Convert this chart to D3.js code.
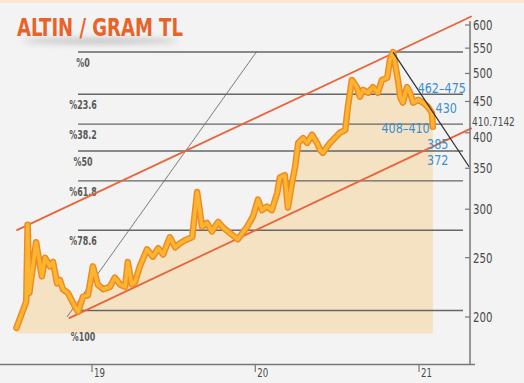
<!DOCTYPE html>
<html><head><meta charset="utf-8">
<script src="https://cdn.jsdelivr.net/npm/d3@7"></script>
<style>
html,body{margin:0;padding:0;background:#f3f3f3;}
svg{display:block;}
</style></head>
<body><svg id="c" width="524" height="383"></svg>
<script>
// ---- data ----
const dates = ["2018-07-16","2018-08-07","2018-08-10","2018-08-14","2018-08-29","2018-09-11","2018-09-18","2018-09-29","2018-10-06","2018-10-15","2018-10-21","2018-10-28","2018-11-08","2018-11-24","2018-12-01","2018-12-12","2018-12-23","2019-01-03","2019-01-14","2019-01-26","2019-02-10","2019-02-21","2019-03-05","2019-03-16","2019-03-22","2019-03-31","2019-04-07","2019-04-18","2019-05-04","2019-05-17","2019-05-29","2019-06-09","2019-06-24","2019-07-06","2019-07-17","2019-07-28","2019-08-13","2019-08-24","2019-09-04","2019-09-15","2019-09-26","2019-10-10","2019-10-21","2019-11-06","2019-11-23","2019-12-14","2019-12-27","2020-01-07","2020-01-16","2020-01-27","2020-02-07","2020-02-19","2020-02-25","2020-03-07","2020-03-14","2020-03-23","2020-03-30","2020-04-06","2020-04-17","2020-04-26","2020-05-07","2020-05-18","2020-05-25","2020-05-31","2020-06-16","2020-07-08","2020-07-20","2020-07-26","2020-08-04","2020-08-15","2020-08-22","2020-08-29","2020-09-09","2020-09-20","2020-10-01","2020-10-10","2020-10-22","2020-10-28","2020-11-04","2020-11-15","2020-11-20","2020-11-26","2020-12-05","2020-12-12","2020-12-19","2020-12-30","2021-01-10","2021-01-21","2021-01-30","2021-02-01"];
const prices = [192,212,283,219,265,233,250,242,246,227,230,222,219,208,204,216,217,242,226,222,224,232,226,224,246,226,228,242,258,251,259,253,270,260,264,267,270,320,281,285,276,286,280,274,268,281,292,311,299,303,299,319,338,341,302,331,352,385,392,385,397,385,375,371,385,400,404,441,488,475,458,470,465,475,465,488,492,526,542,488,458,448,475,465,448,453,448,441,431,409];

const fibLevels = [0, 23.6, 38.2, 50, 61.8, 78.6, 100];
const fibLabels = ["%0","%23.6","%38.2","%50","%61.8","%78.6","%100"];
const fibHigh = 542, fibLow = 205;

const yTicks = [200,250,300,350,400,450,500,550,600];
const extraYLabel = 410.7142;
const xTickDates = ["2019-01-01","2020-01-01","2021-01-01"];
const xTickLabels = ["19","20","21"];

// channel & trend lines as [date, value] endpoints
const channelUpper = [["2018-07-16",277],["2021-04-29",620]];
const channelLower = [["2018-11-10",199],["2021-04-29",407]];
const fanLine = [["2018-11-06",200],["2020-01-05",544]];
const downLine = [["2020-11-04",542],["2021-04-23",352]];

const annotations = ["462–475","430","408–410","385","372"];
const title = "ALTIN / GRAM TL";

// ---- drawing ----
const FONT = "'DejaVu Sans Condensed','Liberation Sans Narrow','DejaVu Sans',sans-serif";
const svg = d3.select("#c");
const P = d3.timeParse("%Y-%m-%d");
const data = dates.map((d,i)=>({date:P(d), v:prices[i]}));

const x = d3.scaleTime().domain([P("2019-01-01"),P("2021-01-01")]).range([92,419]);
const y = d3.scaleLog().domain([200,600]).range([317,25]);

// squeeze text horizontally around its anchor x (condensed look)
function squeeze(sel, f){
  sel.each(function(){
    const ax = +this.getAttribute("x");
    this.setAttribute("transform", `translate(${ax},0) scale(${f},1) translate(${-ax},0)`);
  });
  return sel;
}

svg.append("rect").attr("width",524).attr("height",383).attr("fill","#f3f3f3");
svg.append("rect").attr("width",524).attr("height",3).attr("fill","#fbe6d6");

// title shadow + title
const defs = svg.append("defs");
defs.append("filter").attr("id","blur").attr("x","-20%").attr("y","-200%").attr("width","140%").attr("height","500%")
  .append("feGaussianBlur").attr("stdDeviation",3);
svg.append("ellipse").attr("cx",100).attr("cy",41).attr("rx",78).attr("ry",2.5)
  .attr("fill","#888").attr("opacity",0.55).attr("filter","url(#blur)");
const tt = svg.append("text").attr("x",17).attr("y",36).text(title)
  .attr("font-family",FONT).attr("font-weight","bold").attr("font-size",25)
  .attr("fill","#e8622a");
squeeze(tt, 166/tt.node().getComputedTextLength());

// area
const baseV = 188;
svg.append("path").datum(data)
  .attr("d", d3.area().x(d=>x(d.date)).y0(y(baseV)).y1(d=>y(d.v)))
  .attr("fill","#f4e2c3");

// fib lines
const fibX0 = 78, fibX1 = 463;
fibLevels.forEach((p,i)=>{
  const v = fibHigh - p/100*(fibHigh-fibLow);
  svg.append("line").attr("x1",fibX0).attr("x2",fibX1).attr("y1",y(v)).attr("y2",y(v))
    .attr("stroke","#666").attr("stroke-width",1.4);
  const ty = p===100 ? y(baseV)+8 : y(v)+15;
  squeeze(svg.append("text").attr("x",83).attr("y",ty).attr("text-anchor","middle")
    .text(fibLabels[i]).attr("font-family",FONT).attr("font-size",13)
    .attr("fill","#5a5a5a").attr("font-weight","bold"), 0.68);
});

// channel + trend lines
const seg = (pts,color,w)=>svg.append("line")
  .attr("x1",x(P(pts[0][0]))).attr("y1",y(pts[0][1]))
  .attr("x2",x(P(pts[1][0]))).attr("y2",y(pts[1][1]))
  .attr("stroke",color).attr("stroke-width",w);
seg(fanLine,"#6e6e6e",0.9);
seg(channelUpper,"#e8643a",1.8);
seg(channelLower,"#e8643a",1.8);

// price line
const line = d3.line().x(d=>x(d.date)).y(d=>y(d.v));
svg.append("path").datum(data).attr("d",line).attr("fill","none")
  .attr("stroke","#ef8a22").attr("stroke-width",6.5).attr("stroke-linejoin","round").attr("stroke-linecap","round");
svg.append("path").datum(data).attr("d",line).attr("fill","none")
  .attr("stroke","#fcb531").attr("stroke-width",3.6).attr("stroke-linejoin","round").attr("stroke-linecap","round");

seg(downLine,"#333",1.3);

// y axis
const axX = 470;
svg.append("line").attr("x1",axX).attr("x2",axX).attr("y1",21).attr("y2",365).attr("stroke","#777").attr("stroke-width",1.5);
yTicks.forEach(t=>{
  svg.append("line").attr("x1",axX-5).attr("x2",axX).attr("y1",y(t)).attr("y2",y(t)).attr("stroke","#777").attr("stroke-width",1.2);
  squeeze(svg.append("text").attr("x",axX+3).attr("y",y(t)+(t===400?4:0)).attr("dy","0.36em").text(t)
    .attr("font-family",FONT).attr("font-size",13.5).attr("fill","#4a4a4a"), 0.84);
});
squeeze(svg.append("text").attr("x",axX+2).attr("y",y(extraYLabel)-4).attr("dy","0.36em").text(extraYLabel)
  .attr("font-family",FONT).attr("font-size",12.5).attr("fill","#4a4a4a"), 0.8);

// x axis
svg.append("line").attr("x1",0).attr("x2",475).attr("y1",364.5).attr("y2",364.5).attr("stroke","#777").attr("stroke-width",1.5);
xTickDates.forEach((d,i)=>{
  const xx = x(P(d));
  svg.append("line").attr("x1",xx).attr("x2",xx).attr("y1",365).attr("y2",372).attr("stroke","#777").attr("stroke-width",1.2);
  squeeze(svg.append("text").attr("x",xx+2).attr("y",377).text(xTickLabels[i])
    .attr("font-family",FONT).attr("font-size",12).attr("fill","#4a4a4a"), 0.8);
});

// annotations (blue), positioned relative to scale values
const ann = [
  {t:annotations[0], x:x(P("2020-12-29")), y:y(462)-1, a:"start"},
  {t:annotations[1], x:x(P("2021-02-07")), y:y(430)-1, a:"start"},
  {t:annotations[2], x:x(P("2021-01-25")), y:y(410)+7, a:"end"},
  {t:annotations[3], x:x(P("2021-01-19")), y:y(385)+6, a:"start"},
  {t:annotations[4], x:x(P("2021-01-19")), y:y(372)+13, a:"start"}
];
ann.forEach(a=>{
  squeeze(svg.append("text").attr("x",a.x).attr("y",a.y).attr("text-anchor",a.a).text(a.t)
    .attr("font-family",FONT).attr("font-size",13.5).attr("fill","#3b8fd2"), 0.92);
});
</script></body></html>
